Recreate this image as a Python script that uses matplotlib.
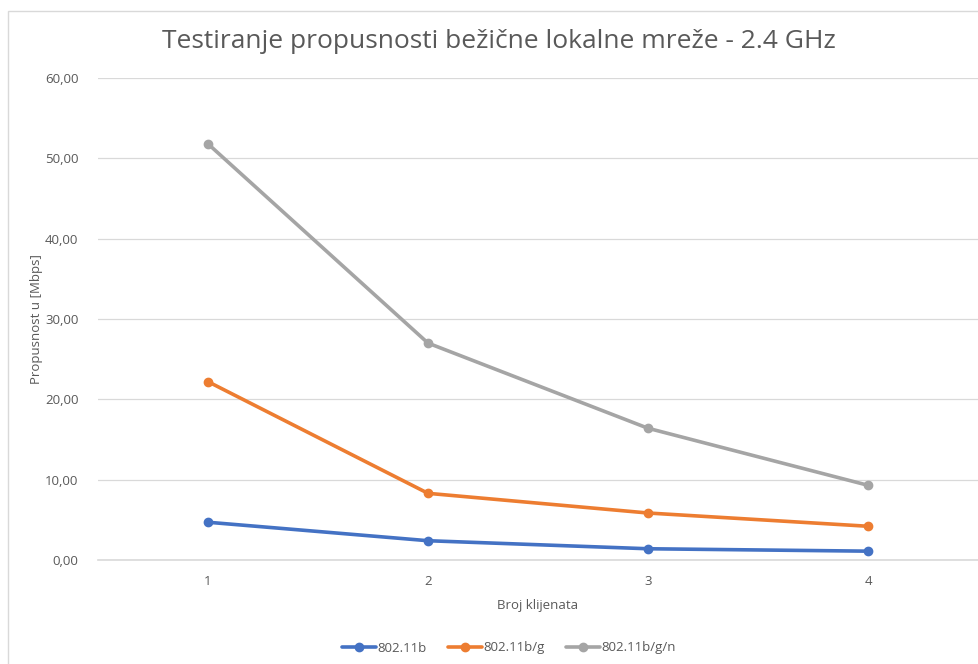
import matplotlib.pyplot as plt
from matplotlib.patches import Rectangle
from matplotlib.ticker import FuncFormatter

plt.rcParams['font.family'] = ['Open Sans', 'DejaVu Sans']

clients = [1, 2, 3, 4]
tick_labels = ["1", "2", "3", "4"]
b_vals = [4.7, 2.4, 1.4, 1.1]
bg_vals = [22.2, 8.3, 5.85, 4.2]
bgn_vals = [51.8, 27.0, 16.4, 9.3]

series = [
    ("802.11b", b_vals, "#4472C4"),
    ("802.11b/g", bg_vals, "#ED7D31"),
    ("802.11b/g/n", bgn_vals, "#A5A5A5"),
]

W, H = 979, 664
fig = plt.figure(figsize=(W / 100, H / 100), dpi=100)
fig.patch.set_facecolor("white")

# chart border (cropped on right and bottom)
fig.patches.append(Rectangle((8 / W, -0.1), 1.2, (H - 11) / H + 0.1,
                             transform=fig.transFigure, fill=False,
                             edgecolor="#D9D9D9", linewidth=1.0))

ax = fig.add_axes([98 / W, (H - 560) / H, 880 / W, (560 - 78) / H])
for name, vals, col in series:
    ax.plot(clients, vals, color=col, linewidth=2.6, marker="o",
            markersize=6, label=name, solid_capstyle="round", zorder=3)

ax.set_xlim(0.5, 4.5)
ax.set_ylim(0, 60)
ax.set_yticks(range(0, 61, 10))
ax.yaxis.set_major_formatter(FuncFormatter(lambda v, p: f"{v:.2f}".replace(".", ",")))
ax.set_xticks(clients)
ax.set_xticklabels(tick_labels)
ax.grid(axis="y", color="#D9D9D9", linewidth=0.9)
ax.axhline(0, color="#D9D9D9", linewidth=1.2, clip_on=False, zorder=1)
ax.set_axisbelow(True)
for s in ax.spines.values():
    s.set_visible(False)
ax.tick_params(length=0, labelsize=9.5, labelcolor="#595959")
ax.tick_params(axis="y", pad=14)
ax.tick_params(axis="x", pad=11)

fig.text(499 / W, 1 - 42 / H, "Testiranje propusnosti bežične lokalne mreže - 2.4 GHz",
         ha="center", va="center", fontsize=19, color="#595959")
fig.text(538 / W, 1 - 606 / H, "Broj klijenata", ha="center", va="center",
         fontsize=9.5, color="#595959")
fig.text(37 / W, 1 - 319 / H, "Propusnost u [Mbps]", ha="center", va="center",
         rotation=90, fontsize=9.5, color="#595959")

fig.legend(loc="center", bbox_to_anchor=(509 / W, 1 - 648 / H), ncol=3,
           frameon=False, fontsize=9.5, labelcolor="#595959",
           handlelength=2.6, handletextpad=0.1, columnspacing=1.6)

fig.savefig("out.png", dpi=100)
